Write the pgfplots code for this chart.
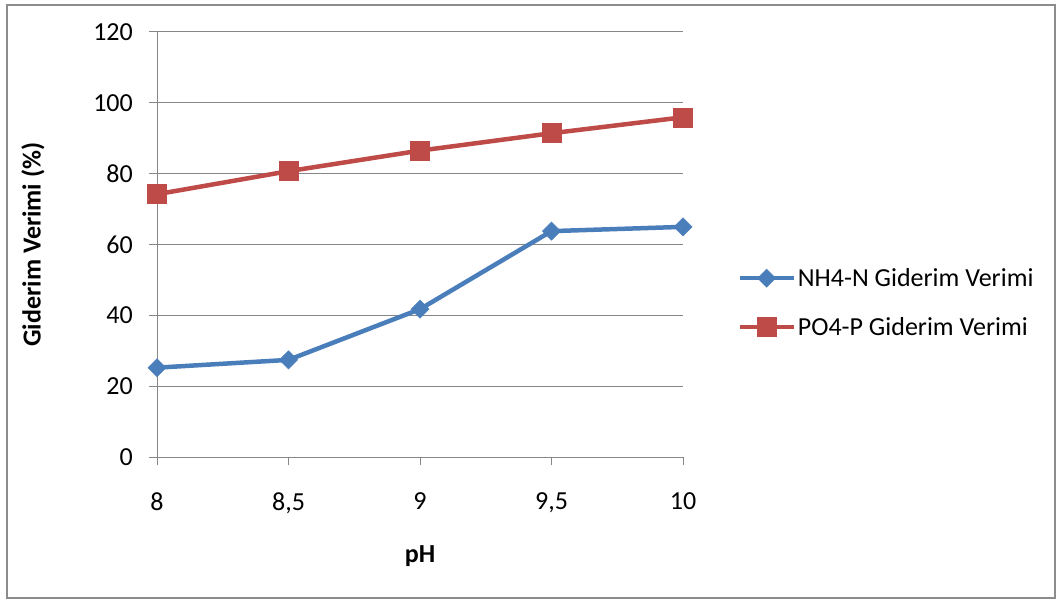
\documentclass[border=0pt]{standalone}
\usepackage{pgfplots}
\pgfplotsset{compat=1.18}
\usepackage{fontspec}
\setmainfont{Carlito}

\definecolor{nhblue}{HTML}{4A7EBB}
\definecolor{pored}{HTML}{BE4B48}
\definecolor{gridgray}{HTML}{878787}
\definecolor{framegray}{HTML}{8C8C8C}

\begin{document}
\begin{tikzpicture}
\path[use as bounding box] (0pt,0pt) rectangle (1062pt,603pt);
\draw[framegray, line width=2pt] (7pt,5pt) rectangle (1055pt,598pt);
\begin{axis}[
  at={(157pt,145.6pt)}, anchor=south west,
  scale only axis, width=526pt, height=425.6pt,
  xmin=8, xmax=10, ymin=0, ymax=120,
  xtick={8,8.5,9,9.5,10},
  xticklabels={8,{8,5},9,{9,5},10},
  ytick={0,20,...,120},
  axis x line*=bottom, axis y line*=left,
  axis line style={-, gridgray, line width=1pt},
  ymajorgrids, major grid style={gridgray, line width=1pt},
  tick align=outside, major tick length=8pt,
  tick style={gridgray, line width=1pt},
  font=\fontsize{26}{31}\selectfont,
  /pgf/number format/assume math mode=true,
  yticklabel style={anchor=east, inner sep=0pt, xshift=-16pt},
  xticklabel style={anchor=north, inner sep=0pt, yshift=-27pt},
  xlabel={\textbf{pH}},
  ylabel={\textbf{Giderim Verimi (\%)}},
  xlabel style={at={(axis description cs:0.5,-0.2317)}, anchor=center},
  ylabel style={at={(axis description cs:-0.2357,0.5)}, anchor=center},
  legend cell align=left,
  legend style={at={(1.103,0.364)}, anchor=west, draw=none, fill=none,
    inner sep=0pt, row sep=25pt,
    nodes={inner sep=2pt, font=\fontsize{26}{31}\selectfont}},
  legend image code/.code={%
    \draw[mark repeat=2, mark phase=2] plot coordinates {(0pt,0pt) (27pt,0pt) (54pt,0pt)};},
]
\addplot[nhblue, line width=4.5pt, mark=square*, mark size=6.4pt,
  mark options={rotate=45, solid, fill=nhblue, line width=0.5pt}]
  coordinates {(8,25.3) (8.5,27.5) (9,41.8) (9.5,63.8) (10,65.0)};
\addlegendentry{NH4-N Giderim Verimi}
\addplot[pored, line width=4.5pt, mark=square*, mark size=9.5pt,
  mark options={solid, fill=pored, line width=0.5pt}]
  coordinates {(8,74.2) (8.5,80.7) (9,86.5) (9.5,91.4) (10,95.9)};
\addlegendentry{PO4-P Giderim Verimi}
\end{axis}
\end{tikzpicture}
\end{document}
